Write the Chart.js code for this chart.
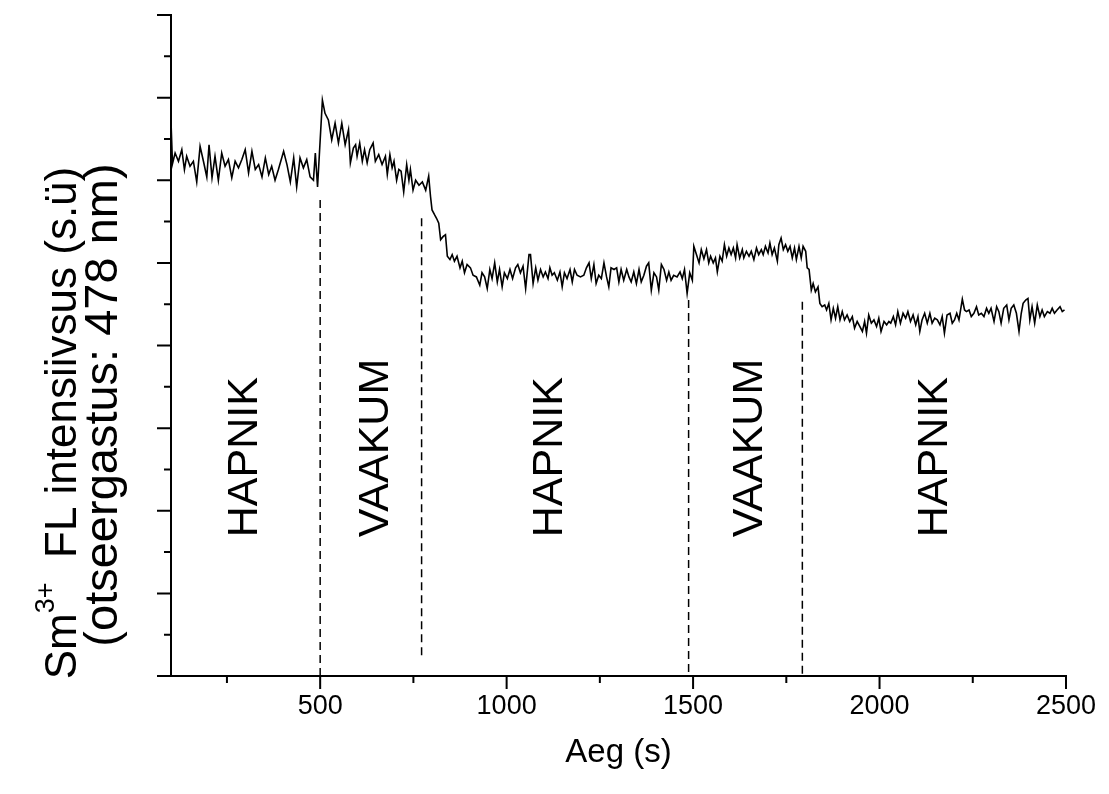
<!DOCTYPE html>
<html>
<head>
<meta charset="utf-8">
<script src="https://cdn.jsdelivr.net/npm/chart.js@4.4.0/dist/chart.umd.min.js"></script>
<style>
  html, body { margin: 0; padding: 0; background: #fff; }
</style>
</head>
<body>
<canvas id="my-chart" width="1109" height="794"></canvas>
<script>
// time (s) and Sm3+ FL intensity (a.u.)
const times = [
  100,104,111,120,129,136,142,151,160,169,178,187,196,202,210,218,227,236,245,254,
  263,272,281,290,299,308,317,326,335,344,353,362,370,379,388,402,411,420,429,437,
  446,455,464,473,482,487,493,506,513,522,531,540,549,558,567,576,
  581,589,595,599,606,613,619,626,633,642,648,657,666,675,680,687,693,698,705,711,
  717,724,732,738,742,749,756,765,774,783,791,796,800,807,812,818,823,830,836,841,
  848,854,860,867,875,881,887,894,903,910,919,928,934,941,948,955,961,968,975,981,
  988,994,1002,1009,1016,1024,1030,1037,1044,1051,1060,
  1064,1071,1078,1084,1091,1098,1104,1111,1116,1122,1128,1136,1143,1149,1155,1162,1170,1176,1182,1189,
  1198,1207,1214,1221,1227,1234,1240,1247,1254,1261,1268,1274,1280,1288,1295,1301,1307,1314,1322,1328,
  1334,1341,1348,1355,1361,1368,1375,1381,1388,1395,1402,1408,1415,1422,1429,1435,1441,1448,1457,1465,
  1471,1477,1484,1491,1498,1502,1509,1516,1522,1529,1536,1542,
  1547,1554,1560,1565,1572,1578,1584,1590,1596,1602,1608,1614,1618,1625,1632,1636,1643,1650,1656,1663,
  1670,1676,1683,1688,1694,1701,1706,1712,1718,1726,1730,1736,1742,1748,1754,1760,1766,1772,1777,1784,
  1790,1795,1802,1806,1811,1817,1822,1828,1835,1840,1846,1853,1858,1864,1870,1876,1882,1888,1894,1900,
  1906,1913,1920,1927,1933,1940,1947,1954,1960,1965,1971,1978,1985,1992,1998,2004,2012,2019,2025,
  2030,2037,2043,2049,2056,2063,2070,2076,2083,2090,2097,2103,2108,2114,2121,2128,2135,2141,2148,2155,
  2162,2168,2174,2181,2189,2195,2201,2207,2213,2222,2228,2233,2240,2246,2253,2260,2266,2273,2280,2287,
  2293,2299,2307,2314,2320,2326,2333,2341,2347,2353,2360,2367,2374,2380,2385,2392,2398,2403,2409,2416,
  2423,2430,2436,2442,2450,2457,2463,2469,2476,2484,2490,2496
];

const intensity = [
  6.71,6.20,6.33,6.23,6.37,6.13,6.29,6.17,6.23,5.98,6.41,6.23,6.04,6.43,6.03,6.29,6.00,6.33,6.17,6.25,
  6.03,6.23,6.15,6.25,6.37,6.09,6.35,6.13,6.19,6.04,6.27,6.07,6.17,6.00,6.13,6.35,6.19,5.98,6.27,5.92,
  6.27,6.15,6.25,6.04,6.00,6.33,5.92,6.97,6.81,6.73,6.49,6.69,6.45,6.69,6.43,6.61,
  6.21,6.39,6.43,6.29,6.45,6.23,6.37,6.21,6.37,6.45,6.23,6.31,6.19,6.29,6.07,6.31,6.15,6.23,6.00,6.13,
  6.11,5.86,6.19,6.00,6.13,5.88,6.00,5.94,5.98,5.88,6.05,5.80,5.64,5.58,5.54,5.48,5.28,5.32,5.34,5.08,
  5.04,5.10,5.02,5.08,4.94,5.02,4.88,4.98,4.94,4.85,4.83,4.73,4.88,4.83,4.69,4.92,4.81,5.00,4.77,4.92,
  4.71,4.88,4.81,4.92,4.81,4.94,4.98,4.88,4.96,4.69,5.10,
  5.10,4.75,4.94,4.79,4.92,4.83,4.89,4.81,4.94,4.85,4.88,4.79,4.89,4.71,4.88,4.81,4.92,4.77,4.92,4.85,
  4.83,4.85,4.94,5.00,4.81,4.98,4.75,4.85,4.81,5.00,4.83,4.71,4.94,4.92,4.94,4.77,4.92,4.79,4.92,4.83,
  4.77,4.89,4.75,4.92,4.77,4.85,4.96,5.00,4.67,4.88,4.83,4.67,4.98,4.92,4.79,4.89,4.79,4.85,4.83,4.89,
  4.81,4.92,4.63,4.88,4.79,5.20,5.10,5.00,5.16,5.05,5.16,5.00,
  5.08,5.00,5.06,4.89,5.08,5.02,5.22,5.08,5.18,5.10,5.18,5.06,5.22,5.06,5.16,5.06,5.14,5.08,5.14,5.04,
  5.18,5.10,5.16,5.10,5.20,5.12,5.24,5.10,5.18,5.02,5.22,5.30,5.16,5.22,5.14,5.20,5.06,5.18,5.04,5.20,
  5.06,5.20,5.14,4.94,4.92,4.67,4.75,4.65,4.71,4.51,4.47,4.49,4.43,4.51,4.31,4.45,4.33,4.47,4.31,4.41,
  4.31,4.37,4.29,4.35,4.21,4.29,4.23,4.17,4.29,4.15,4.37,4.27,4.31,4.23,4.33,4.17,4.29,4.25,4.29,
  4.27,4.35,4.25,4.41,4.27,4.39,4.33,4.41,4.29,4.37,4.25,4.35,4.17,4.31,4.39,4.27,4.39,4.27,4.33,4.31,
  4.25,4.35,4.15,4.37,4.39,4.27,4.31,4.39,4.31,4.56,4.43,4.41,4.43,4.35,4.39,4.47,4.37,4.39,4.35,4.45,
  4.39,4.45,4.29,4.47,4.41,4.27,4.45,4.49,4.31,4.45,4.49,4.39,4.17,4.39,4.51,4.55,4.57,4.31,4.47,4.27,
  4.49,4.35,4.43,4.35,4.41,4.39,4.45,4.39,4.43,4.47,4.41,4.43
];

// gas switching moments (dashed markers)
const switchTimes = [500, 772, 1488, 1793];
const switchTops = [5.76, 5.54, 4.55, 4.53];
const switchBottoms = [0, 0.22, 0, 0];

// atmosphere labels
const regionNames = ['HAPNIK', 'VAAKUM', 'HAPNIK', 'VAAKUM', 'HAPNIK'];
const regionTimes = [300, 651, 1118, 1654, 2150];
const regionLabelBase = 1.68;

// axis ticks
const xMajorTicks = [500, 1000, 1500, 2000, 2500];
const xMinorTicks = [250, 750, 1250, 1750, 2250];
const yMajorTicks = [0, 1, 2, 3, 4, 5, 6, 7, 8];
const yMinorTicks = [0.5, 1.5, 2.5, 3.5, 4.5, 5.5, 6.5, 7.5];

const FONT = '"Liberation Sans", Arial, sans-serif';

const traceData = times.map((t, i) => ({ x: t, y: intensity[i] }));

const switchSets = switchTimes.map((t, i) => ({
  data: [{ x: t, y: switchTops[i] }, { x: t, y: switchBottoms[i] }],
  borderColor: '#000',
  borderWidth: 1.5,
  borderDash: [8, 5],
  pointRadius: 0,
  fill: false
}));

const extras = {
  id: 'extras',
  afterDraw(chart) {
    const { ctx, chartArea } = chart;
    const x = chart.scales.x;
    const y = chart.scales.y;
    ctx.save();
    ctx.strokeStyle = '#000';
    ctx.lineWidth = 2;
    ctx.beginPath();
    yMajorTicks.forEach(v => {
      const p = y.getPixelForValue(v);
      ctx.moveTo(chartArea.left, p);
      ctx.lineTo(chartArea.left - 14, p);
    });
    yMinorTicks.forEach(v => {
      const p = y.getPixelForValue(v);
      ctx.moveTo(chartArea.left, p);
      ctx.lineTo(chartArea.left - 7, p);
    });
    xMajorTicks.forEach(v => {
      const p = x.getPixelForValue(v);
      ctx.moveTo(p, chartArea.bottom);
      ctx.lineTo(p, chartArea.bottom + 13);
    });
    xMinorTicks.forEach(v => {
      const p = x.getPixelForValue(v);
      ctx.moveTo(p, chartArea.bottom);
      ctx.lineTo(p, chartArea.bottom + 7);
    });
    ctx.stroke();

    ctx.fillStyle = '#000';

    // region labels, rotated
    ctx.font = '43px ' + FONT;
    ctx.textAlign = 'left';
    ctx.textBaseline = 'middle';
    regionNames.forEach((name, i) => {
      ctx.save();
      ctx.translate(x.getPixelForValue(regionTimes[i]), y.getPixelForValue(regionLabelBase));
      ctx.rotate(-Math.PI / 2);
      ctx.fillText(name, 0, 0);
      ctx.restore();
    });

    // x title
    ctx.font = '33px ' + FONT;
    ctx.textAlign = 'center';
    ctx.textBaseline = 'alphabetic';
    ctx.fillText('Aeg (s)', (chartArea.left + chartArea.right) / 2, 762);

    // y title, two lines with superscript
    const big = '44px ' + FONT;
    const small = '27px ' + FONT;
    ctx.save();
    ctx.translate(76, 423);
    ctx.rotate(-Math.PI / 2);
    ctx.textAlign = 'left';
    ctx.font = big;
    const a = 'Sm', c = '  FL intensiivsus (s.\u00fc)';
    const wa = ctx.measureText(a).width, wc = ctx.measureText(c).width;
    ctx.font = small;
    const wb = ctx.measureText('3+').width;
    let sx = -(wa + wb + wc) / 2;
    ctx.font = big;
    ctx.fillText(a, sx, 0);
    ctx.font = small;
    ctx.fillText('3+', sx + wa, -22);
    ctx.font = big;
    ctx.fillText(c, sx + wa + wb, 0);
    ctx.restore();

    ctx.save();
    ctx.translate(117, 405);
    ctx.rotate(-Math.PI / 2);
    ctx.textAlign = 'center';
    ctx.font = '47px ' + FONT;
    ctx.fillText('(otseergastus: 478 nm)', 0, 0);
    ctx.restore();

    ctx.restore();
  }
};

const ctx = document.getElementById('my-chart');
const myChart = new Chart(ctx, {
  type: 'line',
  data: {
    datasets: [{
      data: traceData,
      borderColor: '#000',
      borderWidth: 1.6,
      pointRadius: 0,
      tension: 0,
      fill: false
    }].concat(switchSets)
  },
  options: {
    responsive: false,
    animation: false,
    events: [],
    layout: { padding: { top: 15, right: 43, left: 0, bottom: 0 } },
    plugins: {
      legend: { display: false },
      tooltip: { enabled: false }
    },
    scales: {
      x: {
        type: 'linear',
        min: 100,
        max: 2500,
        afterFit: s => { s.height = 118; },
        afterBuildTicks: s => { s.ticks = xMajorTicks.map(v => ({ value: v })); },
        grid: { display: false },
        border: { display: true, color: '#000', width: 2 },
        ticks: {
          color: '#000',
          padding: 6,
          font: { family: FONT, size: 27 },
          maxRotation: 0,
          callback: v => String(v)
        }
      },
      y: {
        min: 0,
        max: 8,
        afterFit: s => { s.width = 171; },
        grid: { display: false },
        border: { display: true, color: '#000', width: 2 },
        ticks: { display: false }
      }
    }
  },
  plugins: [extras]
});
</script>
</body>
</html>
